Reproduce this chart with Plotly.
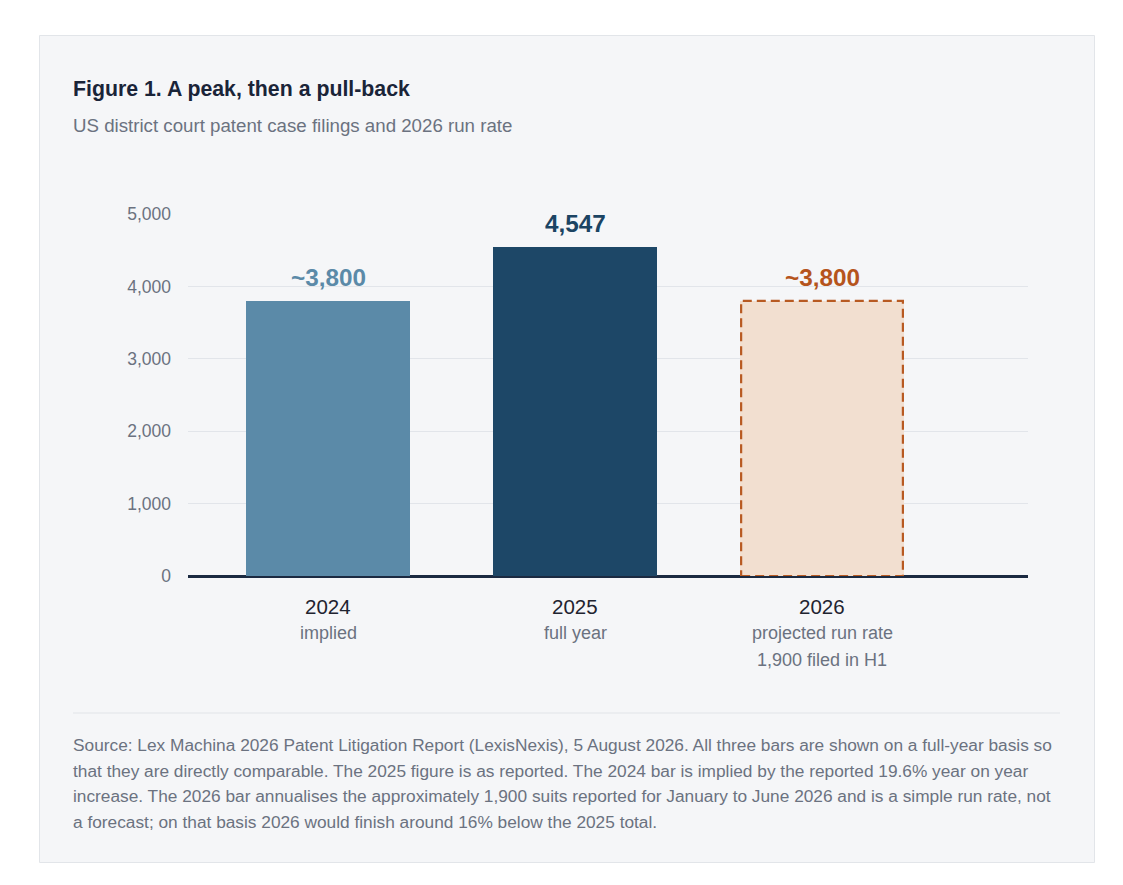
import plotly.graph_objects as go

# data
years = ["2024", "2025", "2026"]
notes = [["implied"], ["full year"], ["projected run rate", "1,900 filed in H1"]]
filings = [3800, 4547, 3800]
value_labels = ["~3,800", "4,547", "~3,800"]

title = "Figure 1. A peak, then a pull-back"
subtitle = "US district court patent case filings and 2026 run rate"
source_lines = [
    "Source: Lex Machina 2026 Patent Litigation Report (LexisNexis), 5 August 2026. All three bars are shown on a full-year basis so",
    "that they are directly comparable. The 2025 figure is as reported. The 2024 bar is implied by the reported 19.6% year on year",
    "increase. The 2026 bar annualises the approximately 1,900 suits reported for January to June 2026 and is a simple run rate, not",
    "a forecast; on that basis 2026 would finish around 16% below the 2025 total.",
]

FONT = "Liberation Sans, Arial, sans-serif"
BAR_FILL = ["#5b8aa8", "#1d4767", "#f2dfd0"]
LABEL_CLR = ["#5b8aa8", "#1b4463", "#b5541c"]
DASH_CLR = "#b85a22"
GRAY = "#6b7280"
INK = "#1a2438"

# page offset (body margin) and figure size
OFF = 8
W, H = 1123 - 2 * OFF, 885 - 2 * OFF
# plot area in window pixels
L, R, T, B = 188, 1028, 214, 576
BAR_W = 0.665
TEXT_X = 71  # left edge of text block, minus annotation padding


def px(x):
    return (x - L) / (R - L)


def py(y):
    return (B - y) / (B - T)


xs = list(range(len(years)))

fig = go.Figure(
    go.Bar(
        x=xs,
        y=filings,
        width=BAR_W,
        marker=dict(color=BAR_FILL, line=dict(width=0)),
        hoverinfo="skip",
    )
)

shapes = [
    # card
    dict(type="rect", xref="paper", yref="paper", x0=px(39.5), x1=px(1094.5), y0=py(862.5), y1=py(35.5),
         fillcolor="#f5f6f8", line=dict(color="#e2e5e9", width=1), layer="below"),
    # separator above the source note
    dict(type="line", xref="paper", yref="paper", x0=px(73), x1=px(1060), y0=py(713), y1=py(713),
         line=dict(color="#e1e4e8", width=1)),
]

# dashed outline for the run-rate bar
i_rr = years.index("2026")
shapes.append(
    dict(type="rect", xref="x", yref="y", x0=i_rr - BAR_W / 2 + 0.005, x1=i_rr + BAR_W / 2 - 0.005,
         y0=0, y1=filings[i_rr], line=dict(color=DASH_CLR, width=2.2, dash="9px,5px"), layer="above")
)

annotations = [
    dict(text=f"<b>{title}</b>", xref="paper", yref="paper", x=px(TEXT_X), y=py(89), xanchor="left",
         yanchor="middle", showarrow=False, font=dict(size=21.3, color=INK)),
    dict(text=subtitle, xref="paper", yref="paper", x=px(TEXT_X), y=py(125), xanchor="left",
         yanchor="middle", showarrow=False, font=dict(size=18.7, color=GRAY)),
]

for i, (lab, val) in enumerate(zip(value_labels, filings)):
    annotations.append(
        dict(text=f"<b>{lab}</b>", x=i, y=val, xref="x", yref="y", yanchor="middle", yshift=23,
             showarrow=False, font=dict(size=24.3, color=LABEL_CLR[i]))
    )

for i, (yr, sub) in enumerate(zip(years, notes)):
    annotations.append(
        dict(text=yr, x=i, xref="x", yref="paper", y=py(606), yanchor="middle", showarrow=False,
             font=dict(size=20.5, color="#1f2430"))
    )
    for k, line in enumerate(sub):
        annotations.append(
            dict(text=line, x=i, xref="x", yref="paper", y=py(633 + 27 * k), yanchor="middle",
                 showarrow=False, font=dict(size=18, color=GRAY))
        )

for k, line in enumerate(source_lines):
    annotations.append(
        dict(text=line, xref="paper", yref="paper", x=px(TEXT_X), y=py(745 + 25.7 * k), xanchor="left",
             yanchor="middle", showarrow=False, font=dict(size=17.3, color=GRAY))
    )

fig.update_layout(
    width=W,
    height=H,
    margin=dict(l=L - OFF, r=W - (R - OFF), t=T - OFF, b=H - (B - OFF), pad=0),
    paper_bgcolor="white",
    plot_bgcolor="rgba(0,0,0,0)",
    font=dict(family=FONT),
    showlegend=False,
    bargap=0,
    shapes=shapes,
    annotations=annotations,
    xaxis=dict(
        range=[-0.567, 2.834],
        showticklabels=False,
        showgrid=False,
        zeroline=False,
        showline=False,
        fixedrange=True,
    ),
    yaxis=dict(
        range=[0, 5000],
        tickvals=[0, 1000, 2000, 3000, 4000, 5000],
        tickformat=",d",
        showgrid=True,
        gridcolor="#e2e5ea",
        gridwidth=1.2,
        zeroline=True,
        zerolinecolor="#1b2a41",
        zerolinewidth=2.5,
        showline=False,
        ticks="",
        ticklabelstandoff=16,
        tickfont=dict(size=17.5, color=GRAY),
        fixedrange=True,
    ),
)

fig.write_html("out.html")
